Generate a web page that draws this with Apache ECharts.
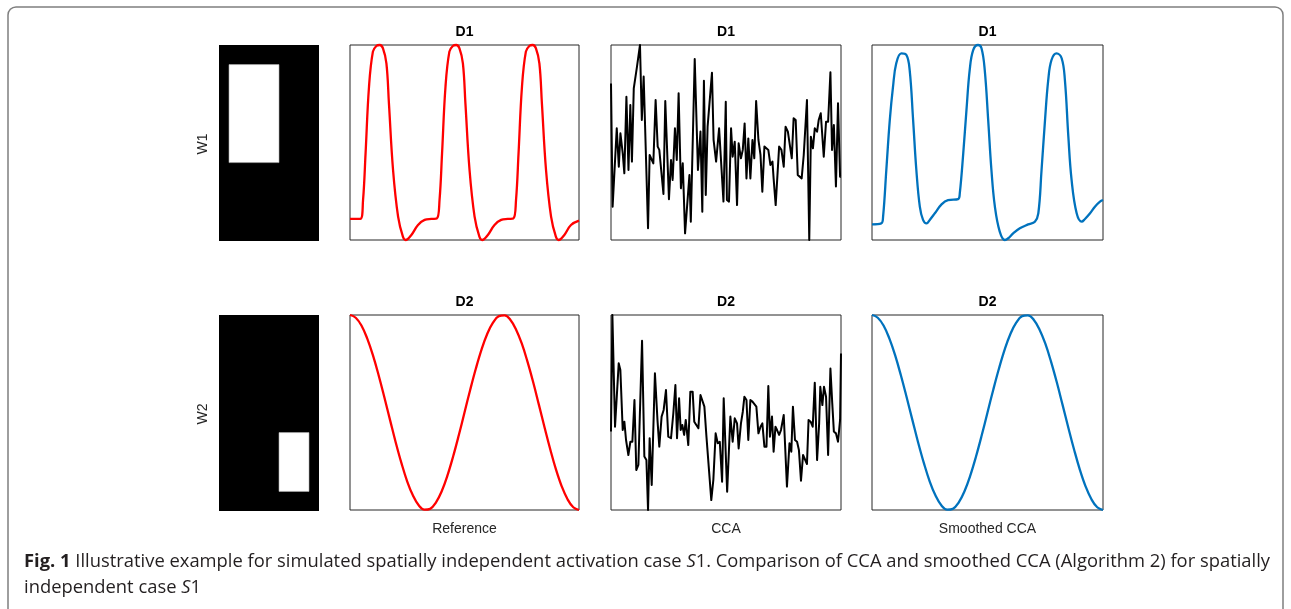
<!DOCTYPE html>
<html><head><meta charset="utf-8">
<script src="https://cdn.jsdelivr.net/npm/echarts@6.0.0/dist/echarts.min.js"></script>
<style>html,body{margin:0;padding:0;background:#fff}#c{width:1291px;height:609px}</style>
</head><body><div id="c"></div><script>
// ---------- data ----------
const rowTitles = ['D1', 'D2'];
const rowLabels = ['W1', 'W2'];
const colLabels = ['Reference', 'CCA', 'Smoothed CCA'];
const captionBold = 'Fig. 1';
const captionLine1a = ' Illustrative example for simulated spatially independent activation case ';
const captionLine1b = '1. Comparison of CCA and smoothed CCA (Algorithm 2) for spatially';
const captionLine2a = 'independent case ';
const captionLine2b = '1';
const captionItalic = 'S';

// spatial maps (20 rows x 10 cols, 1 = active)
const w1Mask = [
 '0000000000','0000000000','0111110000','0111110000','0111110000',
 '0111110000','0111110000','0111110000','0111110000','0111110000',
 '0111110000','0111110000','0000000000','0000000000','0000000000',
 '0000000000','0000000000','0000000000','0000000000','0000000000'];
const w2Mask = [
 '0000000000','0000000000','0000000000','0000000000','0000000000',
 '0000000000','0000000000','0000000000','0000000000','0000000000',
 '0000000000','0000000000','0000001110','0000001110','0000001110',
 '0000001110','0000001110','0000001110','0000000000','0000000000'];

// Reference D1
const refD1T = [0,4.5,5.7,6.8,8.3,10.0,11.5,13.0,14.4,15.9,17.0,18.8,21.0,23.1,24.3,26.8,29.7,32.6,35.5,37.9,39.1,40.2,41.7,43.4,44.9,46.4,47.8,49.3,50.4,52.2,54.4,56.5,57.7,60.2,63.1,66.0,68.9,71.3,72.5,73.6,75.1,76.8,78.3,79.8,81.2,82.7,83.8,85.6,87.8,89.9,91.1,93.6,96.5,100];
const refD1V = [10.8,10.8,20.5,44.4,78.6,96.6,99.5,100,98.3,90.6,70.1,35.9,12.0,1.7,0,2.6,7.7,10.3,10.8,11.0,20.5,44.4,78.6,96.6,99.5,100,98.3,90.6,70.1,35.9,12.0,1.7,0,2.6,7.7,10.3,10.8,11.0,20.5,44.4,78.6,96.6,99.5,100,98.3,90.6,70.1,35.9,12.0,1.7,0,2.6,7.7,9.9];
// CCA D1
const ccaD1T = [0,0.7,2.5,3.4,4.1,5.1,5.8,6.7,7.6,8.4,9.1,9.9,11.3,12.6,13.4,14.2,16.1,16.8,18.4,19.4,20.3,21.0,22.8,23.6,25.2,26.1,26.8,27.8,28.6,29.4,30.4,31.2,32.2,34.1,34.7,36.4,37.8,38.9,39.7,40.4,41.2,42.0,43.9,44.6,45.7,47.0,48.9,49.9,50.4,51.3,52.2,52.9,53.8,54.8,55.5,56.5,57.3,58.1,58.9,59.7,60.6,61.5,62.3,63.1,64.1,65.0,65.8,66.7,68.4,69.3,70.2,70.7,71.6,73.1,74.1,75.1,75.9,76.9,77.7,78.6,79.4,80.3,81.2,82.0,82.9,83.8,84.3,85.2,86.2,86.9,87.8,88.6,89.6,90.3,91.2,92.5,93.5,94.4,95.4,96.1,96.9,97.8,98.7,99.6,100];
const ccaD1V = [80.3,17.1,57.3,37.6,54.7,44.4,34.2,73.5,35.9,69.2,40.2,77.8,88.9,100,61.5,83.8,6.0,43.6,39.3,71.8,47.9,46.2,23.6,71.3,20.9,41.0,30.8,57.3,41.0,75.2,26.5,39.3,3.4,33.3,9.4,92.8,35.9,55.6,14.5,81.7,23.1,58.1,85.8,51.3,40.2,57.3,19.7,70.9,20.5,19.7,57.3,42.7,50.4,17.9,49.6,41.9,46.2,59.8,31.6,52.1,31.6,51.3,41.9,71.3,51.3,43.6,24.8,47.9,46.2,38.5,40.2,31.6,17.9,47.9,46.2,37.6,58.1,55.6,56.4,41.9,62.4,61.5,33.3,33.3,31.6,43.6,42.7,71.8,0,53.0,47.0,57.3,55.6,61.5,65.0,42.7,60.7,60.7,86.0,46.2,59.0,27.4,70.1,32.5,32.5];
// Smoothed CCA D1
const smD1T = [0,4.0,4.8,6.2,7.7,9.1,10.5,12.7,14.9,16.3,17.8,19.2,20.7,22.1,23.6,25.0,27.2,30.1,32.9,37.3,38.0,39.5,40.9,42.3,43.8,45.9,47.4,48.8,50.3,51.7,53.2,55.3,57.5,59.0,61.1,64.0,67.6,70.5,72.0,73.4,74.9,76.3,77.7,79.9,82.1,83.5,85.0,86.4,88.6,90.8,92.2,94.4,96.5,98.7,100];
const smD1V = [8.0,8.5,12.0,35.9,61.5,78.6,90.6,95.7,94.9,87.2,61.5,35.9,17.1,10.3,8.5,10.3,13.7,18.3,20.5,21.0,23.9,44.4,66.7,87.2,97.4,100,98.3,87.2,61.5,35.9,17.1,4.3,0,0.9,3.4,6.0,8.0,9.4,13.7,35.9,61.5,82.1,92.3,95.7,93.2,82.1,53.0,30.8,13.7,9.4,10.8,13.7,17.1,19.7,20.5];
// Reference D2
const refD2T = [0,2.5,5,7.5,10,12.5,15,17.5,20,22.5,25,27.5,30,32.5,35,37.5,40,42.5,45,47.5,50,52.5,55,57.5,60,62.5,65,67.5,70,72.5,75,77.5,80,82.5,85,87.5,90,92.5,95,97.5,100];
const refD2V = [100,98.6,94.6,88.0,79.4,69.1,57.8,46.1,34.5,23.9,14.6,7.4,2.4,0.2,0.6,3.8,9.5,17.5,27.3,38.3,50,61.7,72.7,82.5,90.5,96.2,99.4,99.8,97.6,92.6,85.4,76.1,65.5,53.9,42.2,30.9,20.6,12.0,5.5,1.4,0];
// CCA D2
const ccaD2T = [0,0.6,1.75,3.35,4.07,5.09,5.81,6.54,7.55,8.42,9.29,10.2,11.0,11.9,13.5,14.5,15.4,16.1,16.8,17.7,19.1,20.2,21.0,22.0,22.9,23.9,24.9,26.1,27.1,28.0,28.7,29.6,30.3,31.0,31.8,32.5,33.6,34.5,35.5,36.2,37.0,38.0,38.9,39.7,40.6,41.5,42.3,43.6,44.5,45.5,46.4,47.3,48.3,49.0,50.5,51.9,52.9,53.8,54.8,55.5,56.5,57.3,58.0,58.9,59.7,60.6,61.5,62.3,63.2,64.1,65.0,65.8,66.7,67.6,68.4,69.1,70.0,70.7,71.5,72.2,73.1,73.9,75.1,76.5,77.6,78.4,79.1,80.0,80.9,81.7,82.6,83.5,84.3,85.2,85.9,86.8,87.7,88.6,89.6,90.5,91.0,91.9,92.6,93.5,94.4,95.4,96.2,96.9,97.8,98.7,99.6,100];
const ccaD2V = [40.2,100,42.7,75.2,71.8,41.0,45.3,35.9,28.2,35.0,35.0,56.4,20.5,23.1,86.8,27.4,25.6,0,36.8,12.8,70.1,46.2,32.5,47.9,51.3,61.5,37.6,36.8,49.6,64.1,36.8,57.3,41.0,43.6,38.5,46.2,33.3,60.7,60.7,45.3,45.3,41.9,59.0,59.8,53.0,37.6,36.8,5.1,15.4,39.3,34.2,35.0,14.5,57.3,9.4,47.9,35.0,47.0,44.4,31.6,44.4,50.4,58.1,56.4,35.9,56.4,55.6,54.7,53.0,39.3,42.7,44.4,32.5,32.5,63.6,37.6,47.9,29.9,42.7,41.0,38.5,41.0,48.7,12.0,34.2,29.9,53.0,35.9,35.0,30.8,15.0,28.2,29.1,23.6,46.2,45.3,42.7,65.3,25.6,44.4,63.2,53.8,63.2,58.1,28.2,72.6,54.7,40.2,39.3,35.0,46.2,80.3];
// Smoothed CCA D2
const smD2T = [0,2.5,5,7.5,10,12.5,15,17.5,20,22.5,25,27.5,30,32.5,35,37.5,40,42.5,45,47.5,50,52.5,55,57.5,60,62.5,65,67.5,70,72.5,75,77.5,80,82.5,85,87.5,90,92.5,95,97.5,100];
const smD2V = [100,98.6,94.6,88.0,79.4,69.1,57.8,46.1,34.5,23.9,14.6,7.4,2.4,0.2,0.6,3.8,9.5,17.5,27.3,38.3,50,61.7,72.7,82.5,90.5,96.2,99.4,99.8,97.6,92.6,85.4,76.1,65.5,53.9,42.2,30.9,20.6,12.0,5.5,1.4,0];

// ---------- layout ----------
const chart = echarts.init(document.getElementById('c'), null, {renderer: 'canvas'});
const imgLeft = 219, imgW = 100, imgH = 196;
const rowTop = [45, 315], plotH = 195;
const colLeft = [350, 611, 872], colW = [229, 230, 231];
const FONT = '"Liberation Sans", Arial, Helvetica, sans-serif';
const axisColor = '#262626';

const grids = [], xAxes = [], yAxes = [], series = [], graphics = [];
const pairs = (t, v) => t.map((x, i) => [x, v[i]]);
// bounding block of active cells: [colMin, colMax, rowMin, rowMax]
function maskBlock(mask) {
  let c0 = 99, c1 = -1, r0 = 99, r1 = -1;
  mask.forEach((row, r) => row.split('').forEach((ch, k) => {
    if (ch === '1') { c0 = Math.min(c0, k); c1 = Math.max(c1, k); r0 = Math.min(r0, r); r1 = Math.max(r1, r); }
  }));
  return [c0, c1, r0, r1];
}
const cols10 = Array.from({length: 10}, (_, i) => i);
const rows20 = Array.from({length: 20}, (_, i) => i);

[w1Mask, w2Mask].forEach((mask, r) => {
  const gi = grids.length;
  grids.push({left: imgLeft, top: rowTop[r], width: imgW, height: imgH,
    show: true, backgroundColor: '#000', borderWidth: 0, outerBoundsMode: 'none', containLabel: false});
  xAxes.push({type: 'category', gridIndex: gi, data: cols10, show: false, boundaryGap: true});
  yAxes.push({type: 'category', gridIndex: gi, data: rows20, show: false, inverse: true, boundaryGap: true});
  series.push({
    type: 'custom', xAxisIndex: gi, yAxisIndex: gi, silent: true, clip: false,
    data: [maskBlock(mask)],
    encode: {x: [0, 1], y: [2, 3]},
    renderItem: function (params, api) {
      const s = api.size([1, 1]);
      const a = api.coord([api.value(0), api.value(2)]);
      const b = api.coord([api.value(1), api.value(3)]);
      const x0 = a[0] - s[0] / 2, x1 = b[0] + s[0] / 2;
      const y0 = a[1] - s[1] / 2, y1 = b[1] + s[1] / 2;
      return {type: 'rect', shape: {x: x0, y: y0, width: x1 - x0, height: y1 - y0},
        style: {fill: '#fff', stroke: '#b0b0b0', lineWidth: 0.6}};
    }
  });
});

const lineSets = [
  [[refD1T, refD1V, '#ff0000', true], [ccaD1T, ccaD1V, '#000000', false], [smD1T, smD1V, '#0072bd', true]],
  [[refD2T, refD2V, '#ff0000', true], [ccaD2T, ccaD2V, '#000000', false], [smD2T, smD2V, '#0072bd', true]]
];
lineSets.forEach((row, r) => {
  row.forEach((ls, c) => {
    const gi = grids.length;
    grids.push({left: colLeft[c], top: rowTop[r], width: colW[c], height: plotH,
      show: true, borderColor: axisColor, borderWidth: 1, backgroundColor: 'transparent',
      outerBoundsMode: 'none', containLabel: false});
    xAxes.push({type: 'value', gridIndex: gi, min: 0, max: 100, show: false});
    yAxes.push({type: 'value', gridIndex: gi, min: 0, max: 100, show: false});
    series.push({
      type: 'line', xAxisIndex: gi, yAxisIndex: gi, data: pairs(ls[0], ls[1]),
      showSymbol: false, symbol: 'none', clip: false, silent: true,
      smooth: ls[3] ? 0.4 : false,
      lineStyle: {color: ls[2], width: ls[2] === '#000000' ? 2 : 2.3, join: 'round'},
      animation: false
    });
    graphics.push({type: 'text', x: colLeft[c] + colW[c] / 2, y: rowTop[r] - 12.5, silent: true,
      style: {text: rowTitles[r], font: 'bold 14px ' + FONT, fill: '#000', align: 'center', verticalAlign: 'middle'}});
  });
  graphics.push({type: 'text', x: 203.5, y: rowTop[r] + 99, rotation: Math.PI / 2, silent: true,
    style: {text: rowLabels[r], font: '14px ' + FONT, fill: '#262626', align: 'center', verticalAlign: 'middle'}});
});
colLabels.forEach((t, c) => {
  graphics.push({type: 'text', x: colLeft[c] + colW[c] / 2, y: 529, silent: true,
    style: {text: t, font: '14px ' + FONT, fill: '#262626', align: 'center', verticalAlign: 'middle'}});
});

// frame
graphics.unshift({type: 'rect', silent: true, z: -10,
  shape: {x: 8, y: 7, width: 1275, height: 660, r: 8},
  style: {fill: 'none', stroke: '#7f7f7f', lineWidth: 1.5}});

// caption
const capFam = '"Open Sans", "Liberation Sans", Arial, sans-serif';
const capSize = 18;
const fReg = capSize + 'px ' + capFam, fBold = 'bold ' + capSize + 'px ' + capFam, fIt = 'italic ' + capSize + 'px ' + capFam;
const ctx = document.createElement('canvas').getContext('2d');
const mw = (f, t) => { ctx.font = f; return ctx.measureText(t).width; };
const line1W = mw(fBold, captionBold) + mw(fReg, captionLine1a) + mw(fIt, captionItalic) + mw(fReg, captionLine1b);
const capScale = 1246 / line1W;
const capRich = {b: {font: fBold, fill: '#231f20'}, i: {font: fIt, fill: '#231f20'}};
graphics.push({type: 'text', x: 24, y: 562, scaleX: capScale, silent: true,
  style: {text: '{b|' + captionBold + '}' + captionLine1a + '{i|' + captionItalic + '}' + captionLine1b,
    font: fReg, fill: '#231f20', align: 'left', verticalAlign: 'middle', rich: capRich}});
graphics.push({type: 'text', x: 24, y: 588, scaleX: capScale, silent: true,
  style: {text: captionLine2a + '{i|' + captionItalic + '}' + captionLine2b,
    font: fReg, fill: '#231f20', align: 'left', verticalAlign: 'middle', rich: capRich}});

chart.setOption({
  animation: false,
  backgroundColor: '#fff',
  grid: grids, xAxis: xAxes, yAxis: yAxes, series: series,
  graphic: {elements: graphics}
});
</script></body></html>
